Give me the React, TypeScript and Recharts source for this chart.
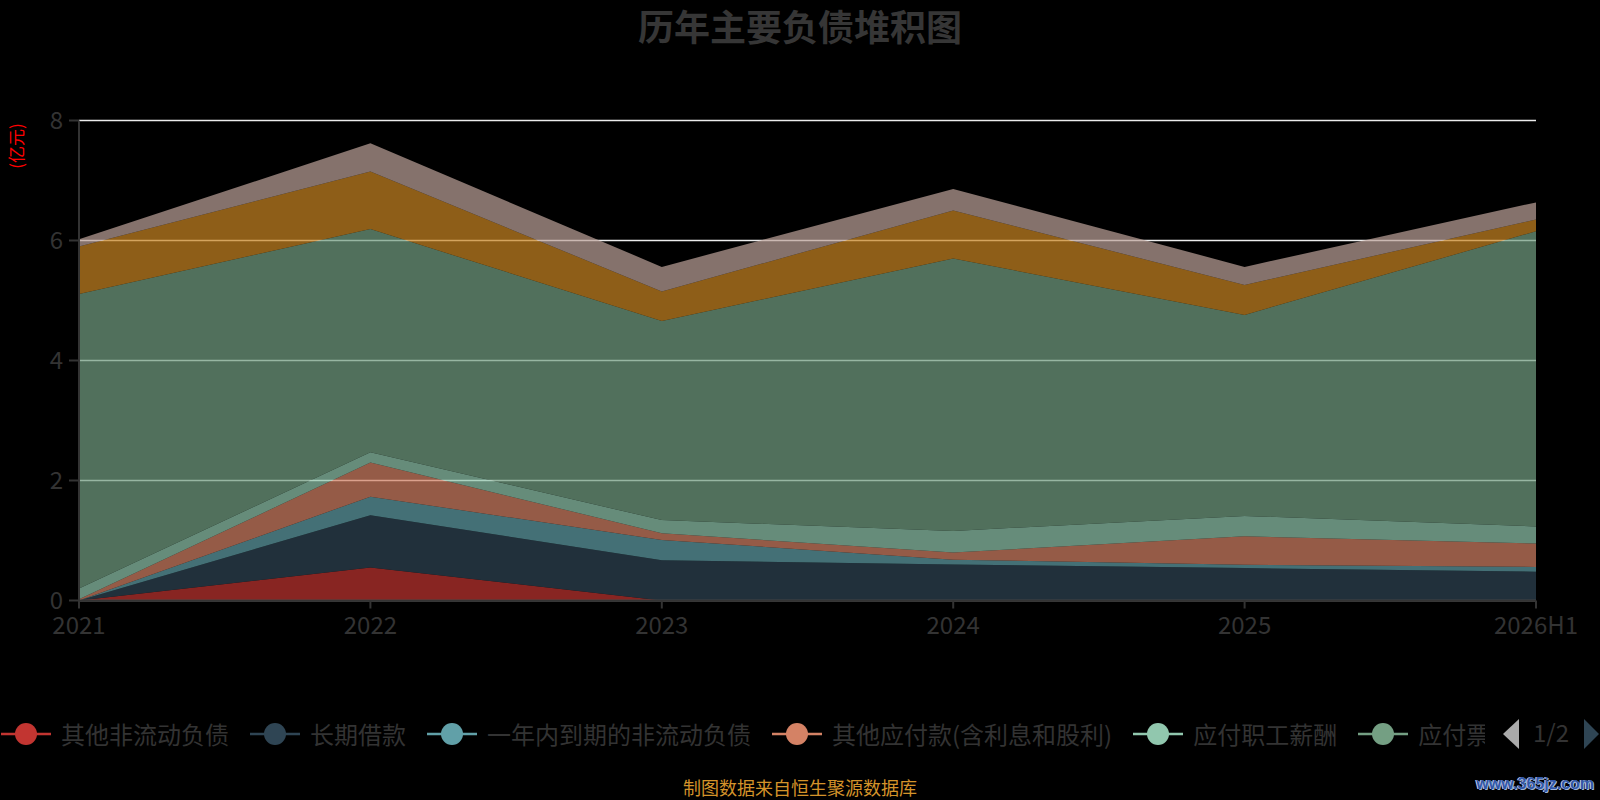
import { AreaChart, Area, XAxis, YAxis, CartesianGrid, Legend, Tooltip } from 'recharts';

// ─── Data (亿元) ──────────────────────────────────────────────────────────────

const years = ['2021', '2022', '2023', '2024', '2025', '2026H1'];

const otherNonCurrent = [0, 0.55, 0, 0, 0, 0];
const longTermLoans = [0, 0.87, 0.67, 0.6, 0.54, 0.48];
const currentPortionNonCurrent = [0, 0.31, 0.34, 0.08, 0.055, 0.08];
const otherPayables = [0.02, 0.57, 0.11, 0.12, 0.475, 0.39];
const payrollPayable = [0.18, 0.17, 0.22, 0.36, 0.34, 0.285];
const notesAndAccountsPayable = [4.91, 3.72, 3.32, 4.54, 3.35, 4.92];
const contractLiabilities = [0.79, 0.96, 0.49, 0.8, 0.5, 0.195];
const taxesPayable = [0.12, 0.47, 0.41, 0.36, 0.3, 0.285];

const yTicks = [0, 2, 4, 6, 8];

const seriesList = [
  { key: 'otherNonCurrent', name: '其他非流动负债', color: '#c23531', values: otherNonCurrent },
  { key: 'longTermLoans', name: '长期借款', color: '#2f4554', values: longTermLoans },
  { key: 'currentPortion', name: '一年内到期的非流动负债', color: '#61a0a8', values: currentPortionNonCurrent },
  { key: 'otherPayables', name: '其他应付款(含利息和股利)', color: '#d48265', values: otherPayables },
  { key: 'payroll', name: '应付职工薪酬', color: '#91c7ae', values: payrollPayable },
  { key: 'notesAccounts', name: '应付票据及应付账款', color: '#749f83', values: notesAndAccountsPayable },
  { key: 'contract', name: '合同负债', color: '#ca8622', values: contractLiabilities },
  { key: 'taxes', name: '应交税费', color: '#bda29a', values: taxesPayable },
];

const chartData = years.map((year, i) => {
  const row: Record<string, string | number> = { year };
  seriesList.forEach((s) => {
    row[s.key] = s.values[i];
  });
  return row;
});

const FONT = "'Noto Sans CJK SC', 'Noto Sans', sans-serif";
const TEXT_GREY = '#333';

// ─── Legend (page 1 of 2, like the original scroll legend) ──────────────────

function PagedLegend() {
  const firstPage = seriesList.slice(0, 6);
  return (
    <div style={{ position: 'relative', width: 1600, height: 40, fontFamily: FONT }}>
      <div
        style={{
          position: 'absolute',
          left: 1,
          top: 0,
          width: 1484,
          height: 40,
          overflow: 'hidden',
          whiteSpace: 'nowrap',
          display: 'flex',
          alignItems: 'center',
        }}
      >
        {firstPage.map((s) => (
          <div key={s.key} style={{ display: 'flex', alignItems: 'center', marginRight: 21, flexShrink: 0 }}>
            <svg width={50} height={24} style={{ display: 'block' }}>
              <line x1={0} y1={12} x2={50} y2={12} stroke={s.color} strokeWidth={2.5} />
              <circle cx={25} cy={12} r={11} fill={s.color} />
            </svg>
            <span style={{ marginLeft: 10, fontSize: 24, color: TEXT_GREY, lineHeight: '40px' }}>{s.name}</span>
          </div>
        ))}
      </div>
      {/* pager */}
      <svg width={110} height={40} style={{ position: 'absolute', left: 1495, top: 0 }}>
        <polygon points="8,20 24,5 24,35" fill="#aaa" />
        <text x={56} y={20} dy="0.35em" textAnchor="middle" fontSize={24} fill={TEXT_GREY} fontFamily={FONT}>
          1/2
        </text>
        <polygon points="89,5 104,20 89,35" fill="#2f4554" />
      </svg>
    </div>
  );
}

// ─── Chart ──────────────────────────────────────────────────────────────────

export default function App() {
  return (
    <div
      style={{
        position: 'fixed',
        left: 0,
        top: 0,
        width: 1600,
        height: 800,
        background: '#000',
        overflow: 'hidden',
        fontFamily: FONT,
      }}
    >
      <div
        style={{
          position: 'absolute',
          top: 6,
          left: 0,
          width: 1600,
          textAlign: 'center',
          fontSize: 36,
          lineHeight: '38px',
          fontWeight: 700,
          color: '#363636',
        }}
      >
        历年主要负债堆积图
      </div>

      <div
        style={{
          position: 'absolute',
          left: 16,
          top: 146,
          transform: 'translate(-50%, -50%) rotate(-90deg)',
          fontSize: 17,
          color: '#ff0000',
          whiteSpace: 'nowrap',
          lineHeight: '18px',
        }}
      >
        (亿元)
      </div>

      <AreaChart
        width={1600}
        height={800}
        data={chartData}
        margin={{ top: 120.5, right: 64, bottom: 159.5, left: 0 }}
      >
        <CartesianGrid horizontal vertical={false} stroke="#ececec" strokeWidth={1.4} />
        <XAxis
          dataKey="year"
          height={40}
          axisLine={{ stroke: '#333', strokeWidth: 2 }}
          tickLine={{ stroke: '#333', strokeWidth: 2 }}
          tickSize={8}
          tickMargin={8}
          interval={0}
          tick={{ fontSize: 24, fill: TEXT_GREY, fontFamily: FONT }}
        />
        <YAxis
          width={79}
          domain={[0, 8]}
          ticks={yTicks}
          axisLine={{ stroke: '#333', strokeWidth: 2 }}
          tickLine={{ stroke: '#333', strokeWidth: 2 }}
          tickSize={10}
          tickMargin={6}
          tick={{ fontSize: 24, fill: TEXT_GREY, fontFamily: FONT }}
        />
        <Tooltip />
        <Legend
          layout="horizontal"
          verticalAlign="middle"
          align="center"
          wrapperStyle={{ top: 714, left: 0, width: 1600 }}
          content={() => <PagedLegend />}
        />
        {seriesList.map((s) => (
          <Area
            key={s.key}
            type="linear"
            dataKey={s.key}
            name={s.name}
            stackId="liabilities"
            stroke="none"
            fill={s.color}
            fillOpacity={0.7}
            dot={false}
            activeDot={false}
            isAnimationActive={false}
          />
        ))}
      </AreaChart>

      <div
        style={{
          position: 'absolute',
          left: 0,
          top: 777,
          width: 1600,
          textAlign: 'center',
          fontSize: 18,
          lineHeight: '20px',
          color: '#d4932a',
        }}
      >
        制图数据来自恒生聚源数据库
      </div>

      <div
        style={{
          position: 'absolute',
          right: 6,
          top: 774,
          fontFamily: "'Liberation Sans', Arial, sans-serif",
          fontWeight: 700,
          fontSize: 16,
          lineHeight: '20px',
          color: '#3158a8',
          textShadow: '1px 1px 0 #9fb2d8, -1px 0 0 #c8d4ec',
        }}
      >
        www.365jz.com
      </div>
    </div>
  );
}
